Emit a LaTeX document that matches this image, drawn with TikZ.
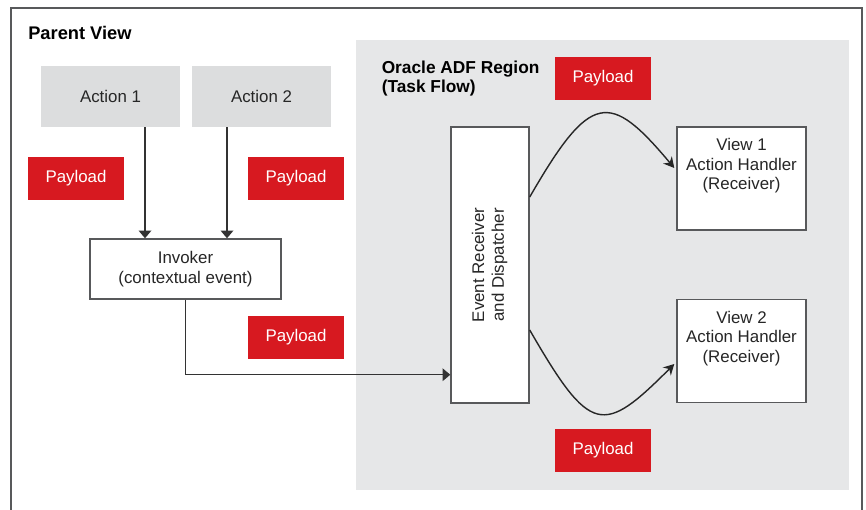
\documentclass[tikz,border=0pt]{standalone}
\usepackage{fontspec}
\setmainfont{Liberation Sans}
\usepackage{tikz}
\usetikzlibrary{arrows.meta,calc,positioning}
\definecolor{adfred}{HTML}{D71920}
\definecolor{regiongray}{HTML}{E6E7E8}
\definecolor{actiongray}{HTML}{DCDDDE}
\definecolor{linegray}{HTML}{58595B}

\begin{document}
\begin{tikzpicture}[x=0.025cm, y=0.025cm,
   every node/.style={font=\fontsize{12}{14}\selectfont},
   payload/.style={fill=adfred, text=white, minimum width=2.4cm, minimum height=1.075cm, inner sep=0pt},
   action/.style={fill=actiongray, text=black!85, minimum width=3.475cm, minimum height=1.525cm},
   box/.style={draw=linegray, line width=1pt, fill=white, text=black!85, align=center},
   arr/.style={-{Triangle[width=9pt,length=5.5pt]}, line width=1pt, draw=black!80},
   carr/.style={-{Stealth[width=8pt,length=7.5pt]}, line width=1pt, draw=black!85}]

   \useasboundingbox (0,0) rectangle (866,509);

   % frame and region
   \draw[linegray, line width=1pt] (11,-5) -- (11,501) -- (862,501) -- (862,-5);
   \fill[regiongray] (356,19) rectangle (849,469);

   \node[anchor=base west, inner sep=0pt, font=\fontsize{13}{15}\selectfont\bfseries] (parent) at (28,469.5) {Parent View};
   \node[anchor=north west, inner sep=0pt, align=left, font=\fontsize{12.3}{13.8}\selectfont\bfseries] (region) at (381.5,448.5) {Oracle ADF Region\\(Task Flow)};

   % parent view
   \node[action] (act1) at (110.5,412.5) {Action 1};
   \node[action] (act2) at (261.5,412.5) {Action 2};
   \node[payload] (pay1) at (76,330.5) {Payload};
   \node[payload] (pay2) at (296,330.5) {Payload};
   \node[box, minimum width=4.775cm, minimum height=1.5cm] (inv) at (185.5,240) {Invoker\\(contextual event)};
   \node[payload] (pay3) at (296,171.5) {Payload};

   % task flow
   \node[payload] (pay4) at (603,430.5) {Payload};
   \node[payload] (pay5) at (603,58.5) {Payload};
   \node[box, minimum width=1.95cm, minimum height=6.9cm] (ev) at (490,244)
      {\rotatebox{90}{\begin{tabular}{@{}c@{}}Event Receiver\\and Dispatcher\end{tabular}}};
   \node[box, minimum width=3.225cm, minimum height=2.575cm] (view1) at (741.5,330.5) {};
   \node[anchor=north, align=center, text=black!85, yshift=-5pt] (txt1) at (view1.north) {View 1\\Action Handler\\(Receiver)};
   \node[box, minimum width=3.225cm, minimum height=2.575cm] (view2) at (741.5,158) {};
   \node[anchor=north, align=center, text=black!85, yshift=-5pt] (txt2) at (view2.north) {View 2\\Action Handler\\(Receiver)};

   % connectors
   \draw[arr] (act1.south) ++(34.5,0) coordinate (a1) -- (a1 |- inv.north);
   \draw[arr] (act2.south) ++(-34.5,0) coordinate (a2) -- (a2 |- inv.north);
   \draw[arr] (inv.south) |- ($(ev.south west)+(0,29)$);

   \draw[carr] ($(ev.east)+(0,68)$) .. controls +(60:122) and +(130:101) .. ($(view1.west)+(-2,10.5)$);
   \draw[carr] ($(ev.east)+(0,-65)$) .. controls +(-60:122) and +(225:101) .. ($(view2.west)+(-2,-13)$);

\end{tikzpicture}
\end{document}
